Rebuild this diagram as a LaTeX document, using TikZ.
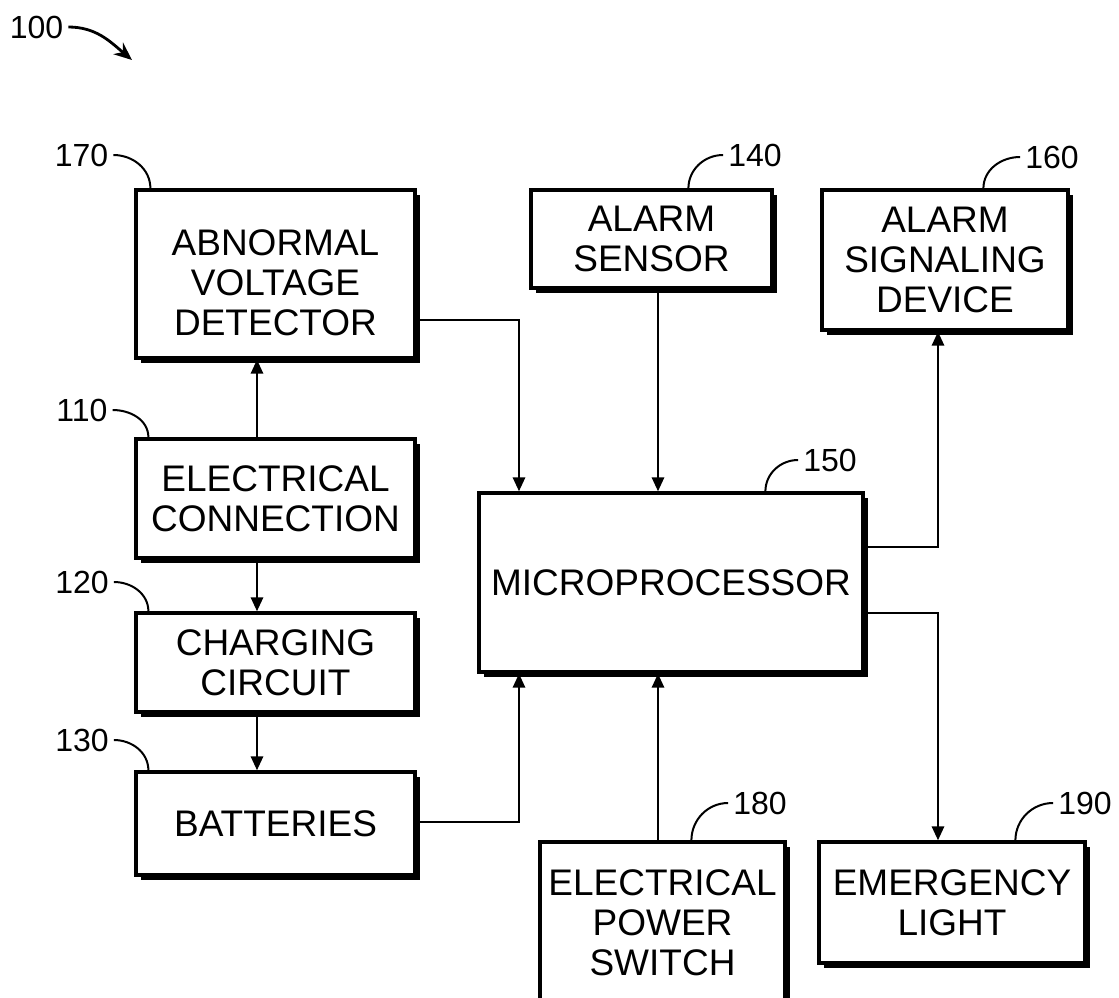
\documentclass[tikz,border=0pt]{standalone}
\usepackage{fontspec}
\setmainfont{Liberation Sans}
\usetikzlibrary{arrows.meta,positioning,calc,shadows}

\begin{document}
\begin{tikzpicture}[x=1pt, y=1pt, >={Triangle[length=14pt,width=12pt]},
  blk/.style={draw,line width=3.2pt,fill=white,inner sep=0pt,align=center,
    font=\fontsize{37}{40}\selectfont,
    drop shadow={shadow xshift=4.5pt,shadow yshift=-4.5pt,fill=black,opacity=1}},
  num/.style={inner xsep=5pt,inner ysep=0pt,font=\fontsize{32}{32}\selectfont},
  flow/.style={->,line width=2.8pt},
  lead/.style={line width=2pt}]
 \clip (0,0) rectangle (1119,-998);
 % power chain on the left
 \node[blk,minimum width=279pt,minimum height=168pt] (abn) at (275.5,-274) {\rule{0pt}{44pt}ABNORMAL\\VOLTAGE\\DETECTOR};
 \node[blk,minimum width=279pt,minimum height=119pt] (conn) at (275.5,-498.5) {ELECTRICAL\\CONNECTION};
 \node[blk,minimum width=279pt,minimum height=99pt] (chg) at (275.5,-662.5) {CHARGING\\CIRCUIT};
 \node[blk,minimum width=279pt,minimum height=103pt] (bat) at (275.5,-823.5) {BATTERIES};
 % controller and peripherals
 \node[blk,minimum width=241pt,minimum height=98pt] (sens) at (651.5,-239) {ALARM\\SENSOR};
 \node[blk,minimum width=246pt,minimum height=140pt] (sig) at (945,-260) {ALARM\\SIGNALING\\DEVICE};
 \node[blk,minimum width=384pt,minimum height=179pt] (mic) at (671,-582.5) {MICROPROCESSOR};
 \node[blk,minimum width=245pt,minimum height=162pt] (psw) at (662.5,-923) {ELECTRICAL\\POWER\\SWITCH};
 \node[blk,minimum width=266pt,minimum height=121pt] (emg) at (952,-902.5) {EMERGENCY\\LIGHT};
 % connections
 \coordinate (lx) at (257,0);
 \draw[flow] (conn.north -| lx) -- (abn.south -| lx);
 \draw[flow] (conn.south -| lx) -- (chg.north -| lx);
 \draw[flow] (chg.south -| lx) -- (bat.north -| lx);
 \coordinate (ja) at (519,-320);
 \draw[flow] (abn.east |- ja) -| (mic.north -| ja);
 \coordinate (jb) at (519,-822);
 \draw[flow] (bat.east |- jb) -| (mic.south -| jb);
 \coordinate (jc) at (658,0);
 \draw[flow] (sens.south -| jc) -- (mic.north -| jc);
 \draw[flow] (psw.north -| jc) -- (mic.south -| jc);
 \coordinate (jd) at (938,-547);
 \draw[flow] (mic.east |- jd) -| (sig.south -| jd);
 \coordinate (je) at (938,-613);
 \draw[flow] (mic.east |- je) -| (emg.north -| je);
 % reference numerals
 \node[num] (n100) at (36.5,-27) {100};
 \coordinate (sys) at (132,-60);
 \draw[-{Stealth[length=18pt,width=15pt]},line width=2.8pt] (n100.east) to[out=0,in=140] (sys);
 \node[num] (n170) at (81.5,-155) {170};
 \node[num] (n110) at (82,-410) {110};
 \node[num] (n120) at (82,-582) {120};
 \node[num] (n130) at (82,-740) {130};
 \draw[lead] (n170.east) to[out=0,in=90] ($(abn.north west)+(16,0)$);
 \draw[lead] (n110.east) to[out=0,in=90] ($(conn.north west)+(14,0)$);
 \draw[lead] (n120.east) to[out=0,in=90] ($(chg.north west)+(14,0)$);
 \draw[lead] (n130.east) to[out=0,in=90] ($(bat.north west)+(14,0)$);
 \node[num] (n140) at (755,-155) {140};
 \node[num] (n160) at (1052,-157) {160};
 \node[num] (n150) at (830,-460) {150};
 \node[num] (n180) at (760,-803) {180};
 \node[num] (n190) at (1085,-803) {190};
 \draw[lead] ($(sens.north west)+(159,0)$) to[out=90,in=180] (n140.west);
 \draw[lead] ($(sig.north west)+(163,0)$) to[out=90,in=180] (n160.west);
 \draw[lead] ($(mic.north west)+(288,0)$) to[out=90,in=180] (n150.west);
 \draw[lead] ($(psw.north west)+(153,0)$) to[out=90,in=180] (n180.west);
 \draw[lead] ($(emg.north west)+(198,0)$) to[out=90,in=180] (n190.west);
\end{tikzpicture}
\end{document}
